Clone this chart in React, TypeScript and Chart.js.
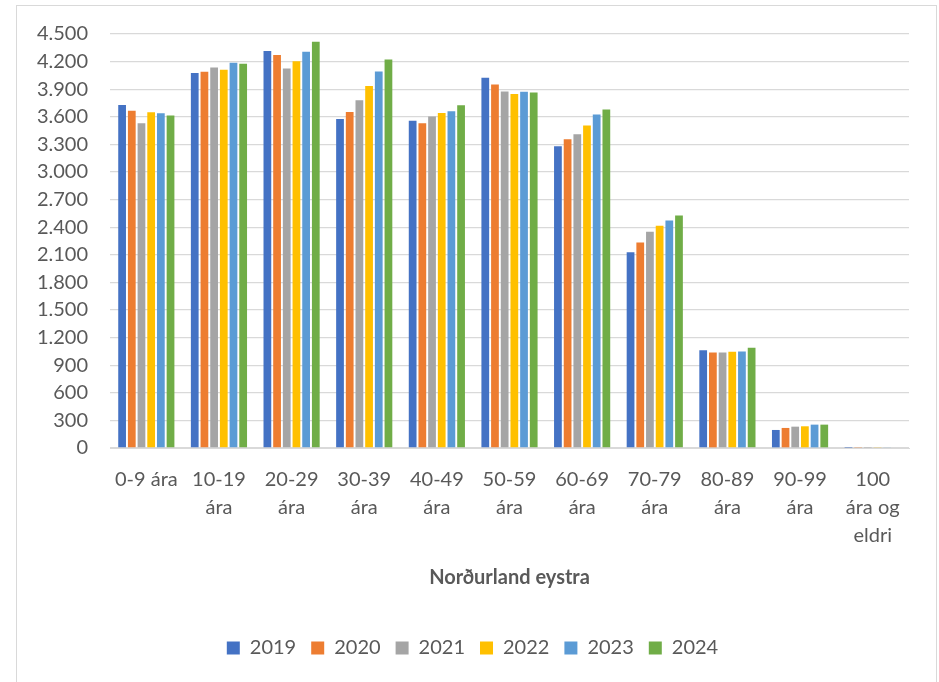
import React, { useEffect, useRef } from "react";
import { Chart, registerables } from "chart.js";

Chart.register(...registerables);

const categories: (string | string[])[] = [
  "0-9 ára",
  ["10-19", "ára"],
  ["20-29", "ára"],
  ["30-39", "ára"],
  ["40-49", "ára"],
  ["50-59", "ára"],
  ["60-69", "ára"],
  ["70-79", "ára"],
  ["80-89", "ára"],
  ["90-99", "ára"],
  ["100", "ára og", "eldri"],
];

const y2019 = [3729, 4075, 4315, 3576, 3558, 4024, 3280, 2129, 1063, 196, 2];
const y2020 = [3667, 4089, 4271, 3653, 3529, 3951, 3356, 2234, 1038, 218, 4];
const y2021 = [3529, 4136, 4125, 3780, 3602, 3875, 3411, 2351, 1038, 232, 3];
const y2022 = [3649, 4111, 4205, 3936, 3642, 3849, 3505, 2416, 1045, 236, 5];
const y2023 = [3638, 4187, 4307, 4093, 3660, 3871, 3625, 2474, 1049, 254, 6];
const y2024 = [3613, 4176, 4416, 4224, 3725, 3864, 3680, 2528, 1089, 254, 7];

const seriesNames = ["2019", "2020", "2021", "2022", "2023", "2024"];
const seriesValues = [y2019, y2020, y2021, y2022, y2023, y2024];
const seriesColors = ["#4472C4", "#ED7D31", "#A5A5A5", "#FFC000", "#5B9BD5", "#70AD47"];

const yMax = 4500;
const yStep = 300;
const axisTitle = "Norðurland eystra";

const FONT = "Lato, 'Open Sans', sans-serif";
const TEXT = "#595959";

function fmt(v: number): string {
  return String(v).replace(/\B(?=(\d{3})+(?!\d))/g, ".");
}

export default function App() {
  const ref = useRef<HTMLCanvasElement | null>(null);

  useEffect(() => {
    if (!ref.current) return;
    const chart = new Chart(ref.current, {
      type: "bar",
      data: {
        labels: categories,
        datasets: seriesNames.map((name, i) => ({
          label: name,
          data: seriesValues[i],
          backgroundColor: seriesColors[i],
          borderWidth: 0,
          categoryPercentage: 0.8,
          barPercentage: 0.8,
        })),
      },
      options: {
        animation: false,
        responsive: true,
        maintainAspectRatio: false,
        layout: { padding: { left: 36, right: 30, top: 34, bottom: 14 } },
        plugins: {
          tooltip: { enabled: false },
          legend: {
            position: "bottom",
            labels: {
              boxWidth: 13,
              boxHeight: 13,
              padding: 15,
              color: TEXT,
              font: { family: FONT, size: 20 },
            },
          },
        },
        scales: {
          x: {
            grid: { display: false, drawTicks: false },
            border: { display: true, color: "#d9d9d9" },
            ticks: {
              color: TEXT,
              font: { family: FONT, size: 20, lineHeight: 1.4 },
              padding: 18,
              maxRotation: 0,
              autoSkip: false,
            },
            title: {
              display: true,
              text: axisTitle,
              color: TEXT,
              font: { family: FONT, size: 20, weight: "bold" },
              padding: { top: -2, bottom: 33 },
            },
          },
          y: {
            min: 0,
            max: yMax,
            afterFit: (s: any) => {
              s.width = 74;
            },
            grid: { color: "#d9d9d9", lineWidth: 1.3, drawTicks: false },
            border: { display: false },
            ticks: {
              stepSize: yStep,
              autoSkip: false,
              color: TEXT,
              font: { family: FONT, size: 20 },
              padding: 22,
              callback: (v: any) => fmt(Number(v)),
            },
          },
        },
      },
    });
    return () => chart.destroy();
  }, []);

  return (
    <div style={{ position: "fixed", left: 0, top: 0, width: 939, height: 682, background: "#fff" }}>
      <div
        style={{
          position: "absolute",
          left: 16,
          top: 5,
          width: 921,
          height: 700,
          border: "1px solid #d9d9d9",
          boxSizing: "border-box",
        }}
      />
      <canvas ref={ref} style={{ position: "absolute", left: 0, top: 0, width: 939, height: 682 }} />
    </div>
  );
}
